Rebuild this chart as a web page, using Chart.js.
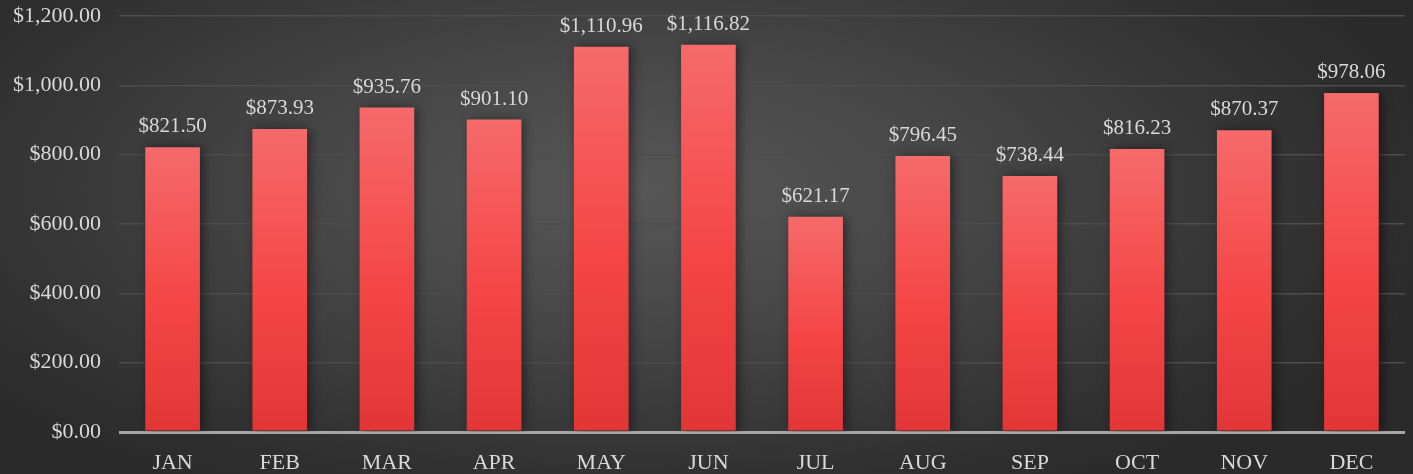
<!DOCTYPE html>
<html lang="en">
<head>
  <meta charset="UTF-8" />
  <title>Monthly Totals</title>
  <script src="https://cdn.jsdelivr.net/npm/chart.js"></script>
  <style>
    html, body { margin: 0; padding: 0; }
    body {
      width: 1413px;
      height: 474px;
      overflow: hidden;
      background: radial-gradient(ellipse 60% 75% at 45% 40%, #575757 0%, #464646 40%, #2f2f2f 85%, #2a2a2a 100%);
    }
    #wrap { position: relative; width: 1413px; height: 474px; }
  </style>
</head>
<body>
  <div id="wrap"><canvas id="chart"></canvas></div>
  <script>
    const months = ['JAN', 'FEB', 'MAR', 'APR', 'MAY', 'JUN', 'JUL', 'AUG', 'SEP', 'OCT', 'NOV', 'DEC'];
    const totals = [821.50, 873.93, 935.76, 901.10, 1110.96, 1116.82, 621.17, 796.45, 738.44, 816.23, 870.37, 978.06];
    const yTicks = [0, 200, 400, 600, 800, 1000, 1200];

    const money = v => '$' + v.toLocaleString('en-US', { minimumFractionDigits: 2, maximumFractionDigits: 2 });
    const serif = "'Liberation Serif', 'DejaVu Serif', serif";

    function barFill(ctx) {
      const chart = ctx.chart;
      const area = chart.chartArea;
      if (!area || ctx.parsed === undefined) return '#f05050';
      const top = chart.scales.y.getPixelForValue(ctx.parsed.y);
      const g = chart.ctx.createLinearGradient(0, top, 0, area.bottom);
      g.addColorStop(0, '#f66a6a');
      g.addColorStop(0.55, '#f54545');
      g.addColorStop(1, '#e23636');
      return g;
    }

    // soft shadow behind the bars
    const barShadow = {
      id: 'barShadow',
      beforeDatasetsDraw(chart) {
        const c = chart.ctx;
        c.save();
        c.shadowColor = 'rgba(0,0,0,0.45)';
        c.shadowBlur = 10;
        c.shadowOffsetX = 3;
        c.shadowOffsetY = 0;
      },
      afterDatasetsDraw(chart) {
        chart.ctx.restore();
      }
    };

    // value labels over each bar
    const valueLabels = {
      id: 'valueLabels',
      afterDatasetsDraw(chart) {
        const c = chart.ctx;
        const meta = chart.getDatasetMeta(0);
        c.save();
        c.font = '21px ' + serif;
        c.fillStyle = '#d9d9d9';
        c.textAlign = 'center';
        c.textBaseline = 'bottom';
        meta.data.forEach((bar, i) => {
          c.fillText(money(totals[i]), bar.x, bar.y - 10);
        });
        c.restore();
      }
    };

    new Chart(document.getElementById('chart'), {
      type: 'bar',
      data: {
        labels: months,
        datasets: [{
          data: totals,
          backgroundColor: barFill,
          borderWidth: 0,
          categoryPercentage: 1,
          barPercentage: 0.51
        }]
      },
      options: {
        responsive: true,
        maintainAspectRatio: false,
        animation: false,
        layout: { padding: { top: 16, right: 8, left: 0, bottom: 0 } },
        plugins: {
          legend: { display: false },
          tooltip: { enabled: false }
        },
        scales: {
          x: {
            grid: { display: false },
            border: { display: false },
            ticks: {
              color: '#d9d9d9',
              font: { family: serif, size: 22 },
              padding: 10
            },
            afterFit: s => { s.height = 42; }
          },
          y: {
            min: 0,
            max: 1200,
            afterBuildTicks: s => { s.ticks = yTicks.map(v => ({ value: v })); },
            border: { display: false },
            grid: {
              color: c => c.tick && c.tick.value === 0 ? '#a6a6a6' : '#4d4d4d',
              lineWidth: c => c.tick && c.tick.value === 0 ? 3 : 1.5,
              drawTicks: false
            },
            ticks: {
              color: '#d9d9d9',
              font: { family: serif, size: 22 },
              padding: 18,
              callback: v => money(v)
            },
            afterFit: s => { s.width = 119; s.paddingTop = 0; s.paddingBottom = 0; }
          }
        }
      },
      plugins: [barShadow, valueLabels]
    });
  </script>
</body>
</html>
